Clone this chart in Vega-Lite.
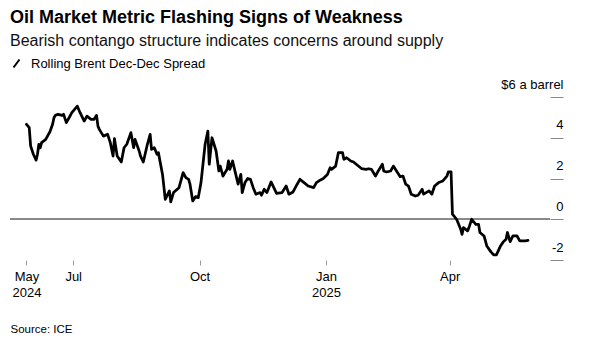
{
  "$schema": "https://vega.github.io/schema/vega-lite/v6.json",
  "autosize": {"type": "none"},
  "width": 540,
  "height": 163,
  "padding": {"left": 10, "top": 97, "right": 39, "bottom": 98},
  "background": "white",
  "config": {
    "font": "Liberation Sans",
    "view": {"stroke": null}
  },
  "title": {
    "text": "Oil Market Metric Flashing Signs of Weakness",
    "subtitle": "Bearish contango structure indicates concerns around supply",
    "anchor": "start",
    "frame": "group",
    "fontSize": 18,
    "fontWeight": "bold",
    "color": "#000000",
    "subtitleFontSize": 16,
    "subtitleColor": "#111111",
    "subtitlePadding": 6,
    "offset": 8
  },
  "data": {
    "values": [
      {"date": "2024-05-28", "spread": 4.66},
      {"date": "2024-05-30", "spread": 4.5},
      {"date": "2024-05-31", "spread": 3.6},
      {"date": "2024-06-02", "spread": 3.19},
      {"date": "2024-06-04", "spread": 2.9},
      {"date": "2024-06-05", "spread": 3.19},
      {"date": "2024-06-06", "spread": 3.68},
      {"date": "2024-06-07", "spread": 3.5},
      {"date": "2024-06-08", "spread": 3.76},
      {"date": "2024-06-11", "spread": 3.92},
      {"date": "2024-06-13", "spread": 4.17},
      {"date": "2024-06-14", "spread": 4.28},
      {"date": "2024-06-16", "spread": 4.66},
      {"date": "2024-06-17", "spread": 4.98},
      {"date": "2024-06-18", "spread": 5.1},
      {"date": "2024-06-20", "spread": 5.15},
      {"date": "2024-06-23", "spread": 5.1},
      {"date": "2024-06-24", "spread": 5.15},
      {"date": "2024-06-26", "spread": 4.74},
      {"date": "2024-06-28", "spread": 4.98},
      {"date": "2024-06-30", "spread": 5.23},
      {"date": "2024-07-02", "spread": 5.39},
      {"date": "2024-07-04", "spread": 5.55},
      {"date": "2024-07-06", "spread": 5.23},
      {"date": "2024-07-09", "spread": 4.82},
      {"date": "2024-07-11", "spread": 5.06},
      {"date": "2024-07-14", "spread": 4.9},
      {"date": "2024-07-16", "spread": 4.9},
      {"date": "2024-07-18", "spread": 5.1},
      {"date": "2024-07-19", "spread": 4.57},
      {"date": "2024-07-20", "spread": 4.41},
      {"date": "2024-07-23", "spread": 4.08},
      {"date": "2024-07-26", "spread": 4.17},
      {"date": "2024-07-28", "spread": 3.76},
      {"date": "2024-07-30", "spread": 3.1},
      {"date": "2024-07-31", "spread": 3.96},
      {"date": "2024-08-02", "spread": 3.1},
      {"date": "2024-08-05", "spread": 2.81},
      {"date": "2024-08-07", "spread": 3.51},
      {"date": "2024-08-09", "spread": 3.68},
      {"date": "2024-08-12", "spread": 4.25},
      {"date": "2024-08-14", "spread": 3.51},
      {"date": "2024-08-15", "spread": 3.92},
      {"date": "2024-08-18", "spread": 3.35},
      {"date": "2024-08-19", "spread": 3.1},
      {"date": "2024-08-21", "spread": 2.81},
      {"date": "2024-08-24", "spread": 3.68},
      {"date": "2024-08-26", "spread": 4.17},
      {"date": "2024-08-27", "spread": 3.43},
      {"date": "2024-08-29", "spread": 3.51},
      {"date": "2024-08-31", "spread": 3.19},
      {"date": "2024-09-01", "spread": 3.27},
      {"date": "2024-09-04", "spread": 2.2},
      {"date": "2024-09-06", "spread": 0.98},
      {"date": "2024-09-09", "spread": 1.39},
      {"date": "2024-09-10", "spread": 0.85},
      {"date": "2024-09-12", "spread": 1.31},
      {"date": "2024-09-16", "spread": 1.55},
      {"date": "2024-09-19", "spread": 2.29},
      {"date": "2024-09-21", "spread": 2.04},
      {"date": "2024-09-23", "spread": 1.96},
      {"date": "2024-09-24", "spread": 1.72},
      {"date": "2024-09-26", "spread": 0.9},
      {"date": "2024-09-28", "spread": 1.11},
      {"date": "2024-09-30", "spread": 1.06},
      {"date": "2024-10-02", "spread": 1.8},
      {"date": "2024-10-05", "spread": 3.68},
      {"date": "2024-10-07", "spread": 4.33},
      {"date": "2024-10-08", "spread": 2.7},
      {"date": "2024-10-10", "spread": 4.0},
      {"date": "2024-10-13", "spread": 3.35},
      {"date": "2024-10-15", "spread": 2.37},
      {"date": "2024-10-16", "spread": 2.61},
      {"date": "2024-10-18", "spread": 2.12},
      {"date": "2024-10-21", "spread": 2.45},
      {"date": "2024-10-22", "spread": 2.86},
      {"date": "2024-10-23", "spread": 2.45},
      {"date": "2024-10-25", "spread": 2.86},
      {"date": "2024-10-27", "spread": 2.29},
      {"date": "2024-10-29", "spread": 1.72},
      {"date": "2024-10-31", "spread": 2.2},
      {"date": "2024-11-01", "spread": 1.31},
      {"date": "2024-11-03", "spread": 1.8},
      {"date": "2024-11-05", "spread": 2.0},
      {"date": "2024-11-07", "spread": 1.96},
      {"date": "2024-11-09", "spread": 1.55},
      {"date": "2024-11-11", "spread": 1.23},
      {"date": "2024-11-14", "spread": 1.31},
      {"date": "2024-11-15", "spread": 1.18},
      {"date": "2024-11-17", "spread": 1.47},
      {"date": "2024-11-19", "spread": 1.31},
      {"date": "2024-11-22", "spread": 1.83},
      {"date": "2024-11-24", "spread": 1.55},
      {"date": "2024-11-26", "spread": 1.27},
      {"date": "2024-11-30", "spread": 1.31},
      {"date": "2024-12-03", "spread": 1.63},
      {"date": "2024-12-05", "spread": 1.23},
      {"date": "2024-12-08", "spread": 1.34},
      {"date": "2024-12-11", "spread": 1.72},
      {"date": "2024-12-13", "spread": 1.96},
      {"date": "2024-12-16", "spread": 1.8},
      {"date": "2024-12-19", "spread": 1.63},
      {"date": "2024-12-23", "spread": 1.55},
      {"date": "2024-12-25", "spread": 1.8},
      {"date": "2024-12-28", "spread": 1.93},
      {"date": "2024-12-30", "spread": 2.0},
      {"date": "2025-01-02", "spread": 2.2},
      {"date": "2025-01-04", "spread": 2.53},
      {"date": "2025-01-05", "spread": 2.45},
      {"date": "2025-01-08", "spread": 2.61},
      {"date": "2025-01-09", "spread": 2.94},
      {"date": "2025-01-10", "spread": 3.27},
      {"date": "2025-01-13", "spread": 3.27},
      {"date": "2025-01-14", "spread": 2.94},
      {"date": "2025-01-16", "spread": 3.02},
      {"date": "2025-01-19", "spread": 2.86},
      {"date": "2025-01-21", "spread": 2.81},
      {"date": "2025-01-23", "spread": 2.7},
      {"date": "2025-01-27", "spread": 2.48},
      {"date": "2025-01-30", "spread": 2.45},
      {"date": "2025-02-01", "spread": 2.48},
      {"date": "2025-02-03", "spread": 2.45},
      {"date": "2025-02-06", "spread": 2.12},
      {"date": "2025-02-08", "spread": 2.37},
      {"date": "2025-02-11", "spread": 2.7},
      {"date": "2025-02-12", "spread": 2.37},
      {"date": "2025-02-14", "spread": 2.32},
      {"date": "2025-02-17", "spread": 2.37},
      {"date": "2025-02-19", "spread": 2.61},
      {"date": "2025-02-22", "spread": 2.29},
      {"date": "2025-02-24", "spread": 2.09},
      {"date": "2025-02-26", "spread": 2.12},
      {"date": "2025-02-28", "spread": 1.72},
      {"date": "2025-03-02", "spread": 1.63},
      {"date": "2025-03-04", "spread": 1.23},
      {"date": "2025-03-07", "spread": 1.14},
      {"date": "2025-03-09", "spread": 1.18},
      {"date": "2025-03-12", "spread": 1.47},
      {"date": "2025-03-13", "spread": 1.23},
      {"date": "2025-03-17", "spread": 1.39},
      {"date": "2025-03-19", "spread": 1.23},
      {"date": "2025-03-21", "spread": 1.63},
      {"date": "2025-03-24", "spread": 1.8},
      {"date": "2025-03-27", "spread": 1.88},
      {"date": "2025-03-30", "spread": 2.12},
      {"date": "2025-03-31", "spread": 2.32},
      {"date": "2025-04-02", "spread": 2.32},
      {"date": "2025-04-03", "spread": 0.25},
      {"date": "2025-04-06", "spread": 0.0},
      {"date": "2025-04-07", "spread": -0.16},
      {"date": "2025-04-09", "spread": -0.49},
      {"date": "2025-04-10", "spread": -0.74},
      {"date": "2025-04-11", "spread": -0.41},
      {"date": "2025-04-14", "spread": -0.57},
      {"date": "2025-04-15", "spread": -0.41},
      {"date": "2025-04-17", "spread": 0.0},
      {"date": "2025-04-20", "spread": -0.25},
      {"date": "2025-04-22", "spread": -0.25},
      {"date": "2025-04-23", "spread": -0.65},
      {"date": "2025-04-26", "spread": -0.82},
      {"date": "2025-04-28", "spread": -1.31},
      {"date": "2025-05-01", "spread": -1.6},
      {"date": "2025-05-03", "spread": -1.75},
      {"date": "2025-05-05", "spread": -1.75},
      {"date": "2025-05-08", "spread": -1.31},
      {"date": "2025-05-10", "spread": -1.11},
      {"date": "2025-05-12", "spread": -0.98},
      {"date": "2025-05-13", "spread": -0.65},
      {"date": "2025-05-15", "spread": -1.1},
      {"date": "2025-05-17", "spread": -0.82},
      {"date": "2025-05-20", "spread": -0.82},
      {"date": "2025-05-22", "spread": -1.06},
      {"date": "2025-05-26", "spread": -1.06},
      {"date": "2025-05-28", "spread": -1.04}
    ]
  },
  "layer": [
    {
      "mark": {"type": "rule", "color": "#888888", "strokeWidth": 1},
      "encoding": {"y": {"datum": 0, "type": "quantitative"}}
    },
    {
      "mark": {"type": "line", "strokeWidth": 2.75, "strokeJoin": "round", "strokeCap": "round"},
      "encoding": {
        "x": {
          "field": "date",
          "type": "temporal",
          "scale": {
            "type": "utc",
            "domain": [
              {"year": 2024, "month": 5, "date": 16, "utc": true},
              {"year": 2025, "month": 6, "date": 13, "utc": true}
            ]
          },
          "axis": {
            "title": "Source: ICE",
            "titleFont": "Liberation Sans",
            "titleFontSize": 11.5,
            "titleFontWeight": "normal",
            "titleColor": "#000000",
            "titleAnchor": "start",
            "titleAlign": "left",
            "titleBaseline": "alphabetic",
            "titleX": 0,
            "titleY": 72,
            "values": [
              {"year": 2024, "month": 5, "date": 28, "utc": true},
              {"year": 2024, "month": 7, "date": 1, "utc": true},
              {"year": 2024, "month": 10, "date": 1, "utc": true},
              {"year": 2025, "month": 1, "date": 1, "utc": true},
              {"year": 2025, "month": 4, "date": 1, "utc": true}
            ],
            "labelExpr": "utcmonth(datum.value) == 4 ? ['May', '2024'] : (utcmonth(datum.value) == 0 ? ['Jan', '2025'] : utcFormat(datum.value, '%b'))",
            "labelFontSize": 13,
            "labelColor": "#000000",
            "labelLineHeight": 16,
            "labelPadding": 5,
            "labelFlush": false,
            "labelOverlap": false,
            "domain": false,
            "grid": false,
            "ticks": true,
            "tickSize": 5,
            "tickColor": "#999999",
            "tickWidth": 1
          }
        },
        "y": {
          "field": "spread",
          "type": "quantitative",
          "scale": {"domain": [-2, 6], "nice": false, "zero": false},
          "axis": {
            "orient": "right",
            "title": null,
            "values": [-2, 0, 2, 4, 6],
            "labelExpr": "datum.value == 6 ? '$6 a barrel' : '' + datum.value",
            "labelAlign": "right",
            "labelBaseline": "alphabetic",
            "labelOffset": -9,
            "labelPadding": 0,
            "labelFontSize": 13,
            "labelColor": "#000000",
            "domain": false,
            "grid": false,
            "tickSize": 13,
            "tickColor": "#888888",
            "tickWidth": 1
          }
        },
        "color": {
          "datum": "Rolling Brent Dec-Dec Spread",
          "type": "nominal",
          "scale": {"range": ["#000000"]},
          "legend": {
            "title": null,
            "orient": "none",
            "legendX": 0,
            "legendY": -40,
            "symbolType": "M-0.6,0.8L0.6,-0.8",
            "symbolSize": 100,
            "symbolStrokeWidth": 2,
            "symbolStrokeColor": "#000000",
            "labelFontSize": 13,
            "labelColor": "#000000",
            "labelOffset": 8,
            "labelLimit": 0,
            "padding": 0
          }
        }
      }
    }
  ]
}
